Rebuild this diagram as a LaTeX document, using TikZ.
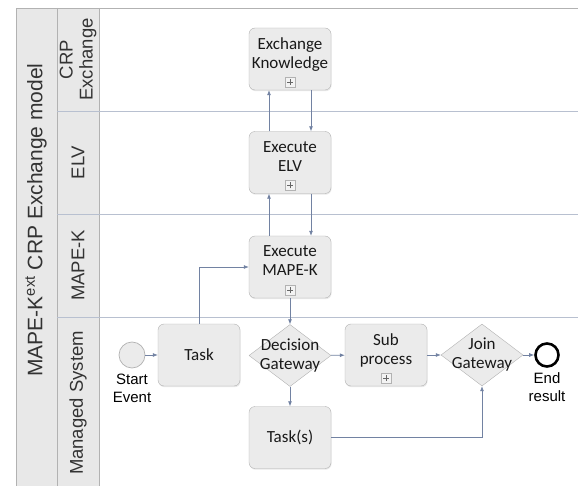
\documentclass[tikz,border=0pt]{standalone}
\usepackage{fontspec}
\setmainfont{Liberation Sans}
\newfontfamily\boxfont{Carlito}
\usetikzlibrary{shapes.geometric,arrows.meta,shadows}

\definecolor{flowblue}{HTML}{7282A2}
\definecolor{lanegray}{HTML}{B8C0D0}
\definecolor{headfill}{HTML}{E8E8E8}
\definecolor{boxfill}{HTML}{EBEBEB}
\definecolor{boxline}{HTML}{B2B2B2}

\tikzset{
  x=1pt, y=1pt,
  lanehead/.style={rotate=90, align=center, font=\fontsize{18.5}{20}\selectfont, text=black!80},
  activity/.style={draw=boxline, fill=boxfill, rounded corners=6pt, minimum width=82pt,
    minimum height=62pt, inner sep=0pt, align=center, font=\boxfont\fontsize{17}{19}\selectfont,
    text=black!90, drop shadow={opacity=0.18, shadow xshift=0.6pt, shadow yshift=-1.2pt}},
  subproc/.style={activity, text depth=12pt,
    path picture={
      \draw[boxline, fill=boxfill!60!white, sharp corners] ([xshift=-5pt, yshift=3pt]path picture bounding box.south)
        rectangle ([xshift=5pt, yshift=13pt]path picture bounding box.south);
      \draw[black!60, line width=0.7pt, sharp corners] ([xshift=-3pt, yshift=8pt]path picture bounding box.south)
        -- ([xshift=3pt, yshift=8pt]path picture bounding box.south)
        ([yshift=5pt]path picture bounding box.south) -- ([yshift=11pt]path picture bounding box.south);
    }},
  gateway/.style={diamond, draw=boxline, fill=boxfill, minimum width=82pt, minimum height=62pt,
    inner sep=0pt, aspect=1.32},
  gatetext/.style={align=center, font=\boxfont\fontsize{17}{19}\selectfont, text=black!90},
  event/.style={circle, minimum size=26pt, inner sep=0pt},
  evlabel/.style={align=center, font=\fontsize{15}{18}\selectfont, inner sep=0pt},
  flow/.style={draw=flowblue, line width=0.7pt, -{Latex[length=5pt, width=4pt]}},
}

\begin{document}
\begin{tikzpicture}
	\useasboundingbox (0,0) rectangle (578,-486);
	
	% pool and lanes
	\fill[headfill] (16,-8) rectangle (99,-486);
	\draw[boxline, line width=0.7pt] (16,-486) -- (16,-8) -- (578,-8);
	\draw[boxline, line width=0.7pt] (57,-8) -- (57,-486);
	\draw[boxline, line width=0.7pt] (99,-8) -- (99,-486);
	\draw[lanegray, line width=0.8pt] (57,-111) -- (578,-111);
	\draw[lanegray, line width=0.8pt] (57,-214) -- (578,-214);
	\draw[lanegray, line width=0.8pt] (57,-317) -- (578,-317);
	
	\node[lanehead, font=\fontsize{21}{24}\selectfont] (pool-head) at (36,-220) {MAPE-K\textsuperscript{ext} CRP Exchange model};
	\node[lanehead] (crp-head) at (78,-59.5) {CRP\\Exchange};
	\node[lanehead] (elv-head) at (78,-162.5) {ELV};
	\node[lanehead] (mapek-head) at (78,-265.5) {MAPE-K};
	\node[lanehead] (ms-head) at (78,-403) {Managed System};
	
	% activities
	\node[subproc] (ek) at (290,-59) {Exchange\\Knowledge};
	\node[subproc] (elv) at (290,-162.5) {Execute\\ELV};
	\node[subproc] (mapek) at (290,-267) {Execute\\MAPE-K};
	\node[activity] (task) at (199,-355) {Task};
	\node[activity] (tasks) at (290,-437.5) {Task(s)};
	\node[subproc] (sub) at (386,-355) {Sub\\process};
	
	\node[gateway] (dec) at (290,-355.5) {};
	\node[gatetext] (dec-text) at (dec) {Decision\\Gateway};
	\node[gateway] (join) at (482,-355) {};
	\node[gatetext] (join-text) at (join) {Join\\Gateway};
	
	% events
	\node[event, draw=boxline, fill=boxfill, line width=0.7pt] (start) at (132,-355) {};
	\node[event, draw=black, fill=white, line width=2.6pt, minimum size=23pt] (end) at (547,-355) {};
	\node[evlabel, anchor=north] (start-lbl) at ([yshift=-5pt]start.south) {Start\\Event};
	\node[evlabel, anchor=north] (end-lbl) at ([yshift=-5pt]end.south) {End\\result};
	
	% flows
	\draw[flow] ([xshift=-21pt]elv.north) -- ([xshift=-21pt]ek.south);
	\draw[flow] ([xshift=21pt]ek.south) -- ([xshift=21pt]elv.north);
	\draw[flow] ([xshift=-21pt]mapek.north) -- ([xshift=-21pt]elv.south);
	\draw[flow] ([xshift=21pt]elv.south) -- ([xshift=21pt]mapek.north);
	\draw[flow] (start) -- (task);
	\draw[flow] (task.north) |- (mapek.west);
	\draw[flow] (mapek.south) -- (dec.north);
	\draw[flow] (dec) -- (sub);
	\draw[flow] (dec.south) -- (tasks.north);
	\draw[flow] (sub) -- (join);
	\draw[flow] (join) -- (end);
	\draw[flow] (tasks.east) -| (join.south);
\end{tikzpicture}
\end{document}
